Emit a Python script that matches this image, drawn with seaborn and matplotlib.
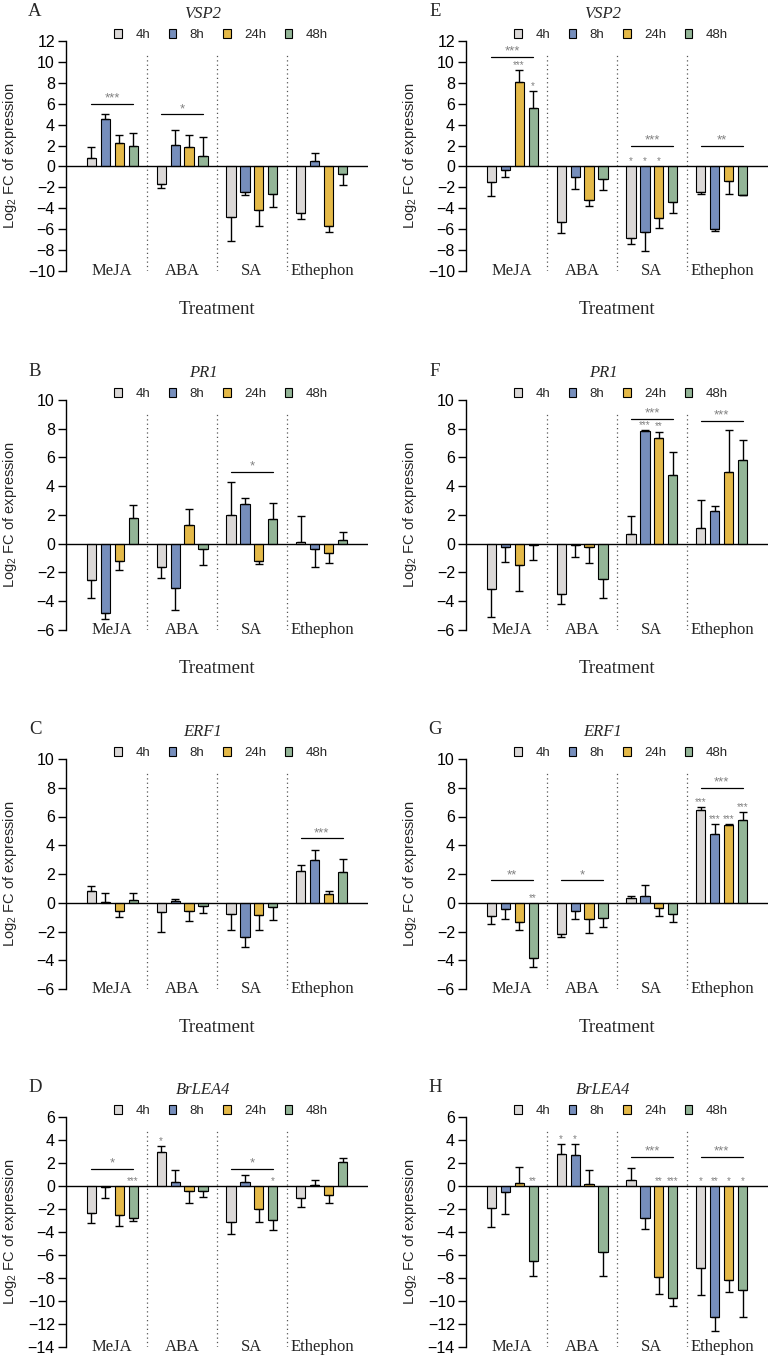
import numpy as np
import pandas as pd
import matplotlib
matplotlib.use("Agg")
import matplotlib.pyplot as plt
import seaborn as sns

treatments = ["MeJA", "ABA", "SA", "Ethephon"]
times = ["4h", "8h", "24h", "48h"]
colors = ["#dcd8d6", "#6a8bc8", "#fec52e", "#8dbb93"]

# rows = treatments, columns = times
# A  VSP2 (left)
vsp2_a_mean = [[0.8, 4.5, 2.25, 2.0], [-1.65, 2.1, 1.9, 1.0],
               [-4.85, -2.4, -4.2, -2.65], [-4.45, 0.5, -5.65, -0.7]]
vsp2_a_sd = [[1.1, 0.5, 0.75, 1.2], [0.45, 1.35, 1.1, 1.85],
             [2.25, 0.35, 1.5, 1.25], [0.6, 0.8, 0.6, 1.1]]
# E  VSP2 (right)
vsp2_e_mean = [[-1.45, -0.35, 8.1, 5.55], [-5.3, -1.0, -3.25, -1.2],
               [-6.85, -6.3, -4.95, -3.4], [-2.4, -5.95, -1.35, -2.7]]
vsp2_e_sd = [[1.35, 0.7, 1.15, 1.65], [1.1, 1.15, 0.5, 1.05],
             [0.6, 1.75, 0.9, 1.05], [0.25, 0.2, 1.3, 0.05]]
# B  PR1 (left)
pr1_b_mean = [[-2.55, -4.8, -1.2, 1.8], [-1.6, -3.05, 1.3, -0.35],
              [2.0, 2.75, -1.2, 1.75], [0.15, -0.4, -0.65, 0.25]]
pr1_b_sd = [[1.2, 0.45, 0.6, 0.9], [0.75, 1.55, 1.15, 1.15],
            [2.3, 0.45, 0.2, 1.1], [1.75, 1.25, 0.7, 0.6]]
# F  PR1 (right)
pr1_f_mean = [[-3.15, -0.25, -1.5, -0.1], [-3.5, -0.1, -0.25, -2.45],
              [0.7, 7.85, 7.35, 4.8], [1.1, 2.3, 5.0, 5.85]]
pr1_f_sd = [[1.95, 1.0, 1.8, 1.0], [0.7, 0.8, 1.1, 1.3],
            [1.2, 0.05, 0.45, 1.6], [1.95, 0.3, 2.9, 1.35]]
# C  ERF1 (left)
erf1_c_mean = [[0.8, 0.05, -0.6, 0.2], [-0.65, 0.1, -0.55, -0.25],
               [-0.75, -2.35, -0.85, -0.3], [2.2, 3.0, 0.6, 2.15]]
erf1_c_sd = [[0.35, 0.6, 0.4, 0.5], [1.35, 0.15, 0.75, 0.45],
             [1.15, 0.7, 1.05, 0.9], [0.4, 0.7, 0.2, 0.9]]
# G  ERF1 (right)
erf1_g_mean = [[-0.95, -0.45, -1.35, -3.85], [-2.15, -0.6, -1.1, -1.05],
               [0.35, 0.5, -0.35, -0.8], [6.45, 4.8, 5.4, 5.75]]
erf1_g_sd = [[0.5, 0.65, 0.55, 0.65], [0.25, 0.5, 1.0, 0.65],
             [0.15, 0.75, 0.55, 0.55], [0.2, 0.7, 0.05, 0.55]]
# D  BrLEA4 (left)
lea4_d_mean = [[-2.35, -0.05, -2.5, -2.75], [3.0, 0.35, -0.4, -0.45],
               [-3.15, 0.35, -2.0, -2.95], [-1.0, 0.1, -0.8, 2.05]]
lea4_d_sd = [[0.9, 1.0, 1.0, 0.25], [0.45, 1.05, 1.05, 0.5],
             [1.05, 0.65, 1.15, 0.85], [0.8, 0.4, 0.7, 0.4]]
# H  BrLEA4 (right)
lea4_h_mean = [[-1.9, -0.5, 0.3, -6.55], [2.75, 2.7, 0.15, -5.7],
               [0.5, -2.8, -7.95, -9.7], [-7.15, -11.35, -8.15, -9.05]]
lea4_h_sd = [[1.7, 1.95, 1.35, 1.3], [0.9, 0.95, 1.2, 2.15],
             [1.1, 0.95, 1.45, 0.75], [2.3, 1.25, 1.1, 2.35]]

# significance: (treatment index, bracket height, label)
a_group = [(0, 6.0, "***"), (1, 5.0, "*")]
e_group = [(0, 10.5, "***"), (2, 2.0, "***"), (3, 2.0, "**")]
b_group = [(2, 5.0, "*")]
f_group = [(2, 8.7, "***"), (3, 8.55, "***")]
c_group = [(3, 4.5, "***")]
g_group = [(0, 1.55, "**"), (1, 1.55, "*"), (3, 8.0, "***")]
d_group = [(0, 1.5, "*"), (2, 1.5, "*")]
h_group = [(2, 2.55, "***"), (3, 2.55, "***")]
# per bar: (treatment index, time index, label)
a_bar = []
e_bar = [(0, 2, "***"), (0, 3, "*"), (2, 0, "*"), (2, 1, "*"), (2, 2, "*")]
b_bar = []
f_bar = [(2, 1, "***"), (2, 2, "**")]
c_bar = []
g_bar = [(0, 3, "**"), (3, 0, "***"), (3, 1, "***"), (3, 2, "***"), (3, 3, "***")]
d_bar = [(0, 3, "***"), (1, 0, "*"), (2, 3, "*")]
h_bar = [(0, 3, "**"), (1, 0, "*"), (1, 1, "*"), (2, 2, "**"), (2, 3, "***"),
         (3, 0, "*"), (3, 1, "**"), (3, 2, "*"), (3, 3, "*")]

sns.set_theme(style="ticks")
plt.rcParams["font.family"] = ["Liberation Sans", "DejaVu Sans"]
plt.rcParams["mathtext.fontset"] = "custom"
plt.rcParams["mathtext.rm"] = "Liberation Sans"
serif = ["Liberation Serif", "DejaVu Serif"]

W, H = 770, 1356
fig = plt.figure(figsize=(W / 100, H / 100), dpi=100)

col_left = [66, 466]
row_top = [41, 400, 759, 1117]
ax_w, ax_h = 302, 230

panels = [
    ("A", "VSP2", vsp2_a_mean, vsp2_a_sd, a_group, a_bar, (-10, 12), 0, 0),
    ("E", "VSP2", vsp2_e_mean, vsp2_e_sd, e_group, e_bar, (-10, 12), 0, 1),
    ("B", "PR1", pr1_b_mean, pr1_b_sd, b_group, b_bar, (-6, 10), 1, 0),
    ("F", "PR1", pr1_f_mean, pr1_f_sd, f_group, f_bar, (-6, 10), 1, 1),
    ("C", "ERF1", erf1_c_mean, erf1_c_sd, c_group, c_bar, (-6, 10), 2, 0),
    ("G", "ERF1", erf1_g_mean, erf1_g_sd, g_group, g_bar, (-6, 10), 2, 1),
    ("D", "BrLEA4", lea4_d_mean, lea4_d_sd, d_group, d_bar, (-14, 6), 3, 0),
    ("H", "BrLEA4", lea4_h_mean, lea4_h_sd, h_group, h_bar, (-14, 6), 3, 1),
]

for letter, gene, mean, sd, group_sig, bar_sig, ylim, r, c in panels:
    left = col_left[c]
    top = row_top[r]
    ax = fig.add_axes([left / W, 1 - (top + ax_h) / H, ax_w / W, ax_h / H])

    df = pd.DataFrame([(treatments[i], times[j], mean[i][j], sd[i][j])
                       for i in range(4) for j in range(4)],
                      columns=["treatment", "time", "value", "sd"])
    sns.barplot(data=df, x="treatment", y="value", hue="time", order=treatments,
                hue_order=times, palette=colors, edgecolor="black", linewidth=0.8,
                width=0.8, gap=0.35, errorbar=None, ax=ax)

    # bar centres from the drawn bars
    centres = np.zeros((4, 4))
    for j, cont in enumerate(ax.containers[:4]):
        for bar in cont:
            x = bar.get_x() + bar.get_width() / 2
            i = int(round(x))
            centres[i, j] = x
            v = mean[i][j]
            s = sd[i][j]
            yerr = [[0], [s]] if v >= 0 else [[s], [0]]
            ax.errorbar(x, v, yerr=yerr, fmt="none", ecolor="black",
                        elinewidth=1.0, capsize=3.2, capthick=1.0, zorder=3)

    ax.axhline(0, color="black", lw=1.0, zorder=4)
    for b in [0.5, 1.5, 2.5]:
        ax.axvline(b, ymin=0, ymax=0.94, color="#555555", ls=(0, (1, 2.5)), lw=0.9)

    for i, y, lab in group_sig:
        ax.plot([centres[i, 0], centres[i, 3]], [y, y], color="black", lw=0.9)
        ax.annotate(lab, ((centres[i, 0] + centres[i, 3]) / 2, y), xytext=(0, 1.5),
                    textcoords="offset points", ha="center", va="baseline",
                    fontsize=9.5, color="#808080")
    for i, j, lab in bar_sig:
        v = mean[i][j]
        base = v + sd[i][j] if v > 0 else 0
        ax.annotate(lab, (centres[i, j], base), xytext=(0, 1.5),
                    textcoords="offset points", ha="center", va="baseline",
                    fontsize=7, color="#808080")

    ax.set_xlim(-0.66, 3.66)
    ax.set_ylim(*ylim)
    ax.set_yticks(np.arange(ylim[0], ylim[1] + 1, 2))
    ax.tick_params(axis="y", direction="out", length=6, width=1.0, labelsize=11.5,
                   color="black", labelcolor="black", pad=2)
    ax.tick_params(axis="x", length=0, pad=-6)
    for lab in ax.get_xticklabels():
        lab.set_fontfamily(serif)
        lab.set_fontsize(12)
    for side in ["top", "right", "bottom"]:
        ax.spines[side].set_visible(False)
    ax.spines["left"].set_linewidth(1.0)
    ax.spines["left"].set_color("black")

    ax.set_ylabel(r"Log$_\mathregular{2}$ FC of expression", fontsize=10.5)
    ax.yaxis.set_label_coords(-47 / ax_w, 0.5)
    if r < 3:
        ax.set_xlabel("Treatment", fontsize=13.5, family=serif)
        ax.xaxis.set_label_coords(0.5, -39 / ax_h)
        ax.xaxis.label.set_va("center")
    else:
        ax.set_xlabel("")

    handles, labels = ax.get_legend_handles_labels()
    for h in handles:
        h.set_edgecolor("black")
        h.set_linewidth(0.8)
    ax.legend(handles, labels, loc="center", bbox_to_anchor=(0.5 + 4 / ax_w, 1 + 6 / ax_h),
              ncol=4, frameon=False, fontsize=9.5, handlelength=0.6,
              handleheight=0.6, handletextpad=1.0, columnspacing=1.4,
              borderaxespad=0, borderpad=0)

    fig.text((left - 31) / W, 1 - (top - 29) / H, letter, family=serif,
             fontsize=13.5, ha="center", va="center")
    fig.text((left + ax_w / 2 - 14) / W, 1 - (top - 27) / H, gene, family=serif,
             style="italic", fontsize=12, ha="center", va="center")

fig.savefig("out.png", dpi=100)
